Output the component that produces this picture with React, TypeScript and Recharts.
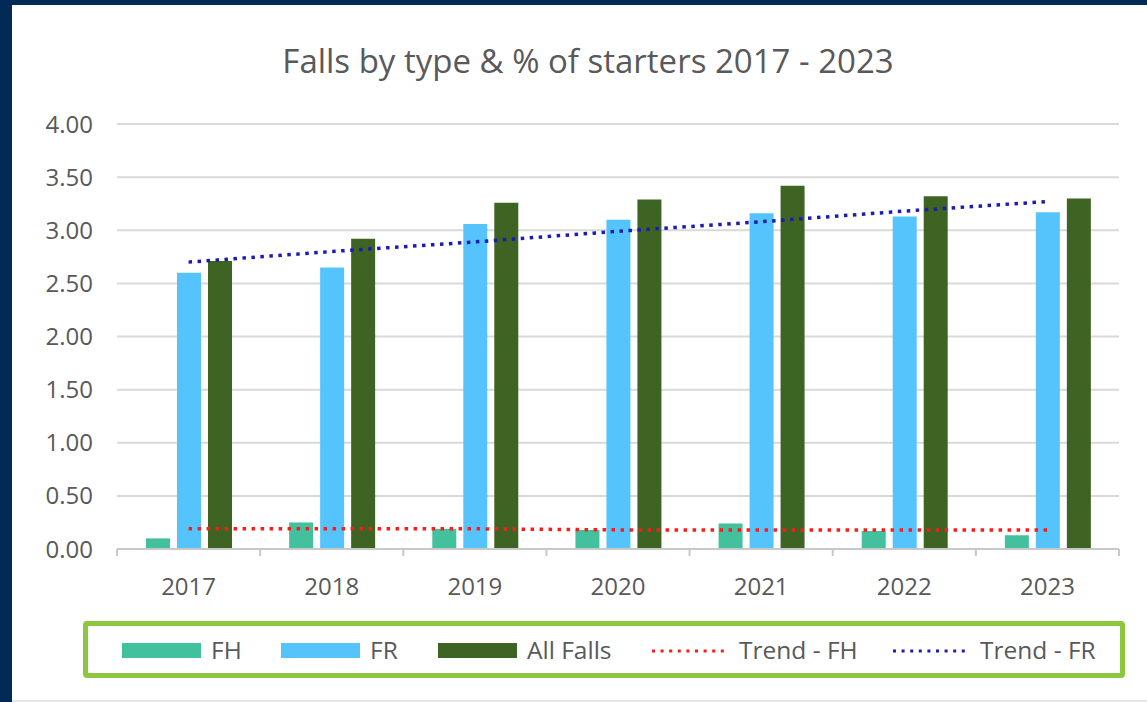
import React from "react";
import { ComposedChart, Bar, Line, XAxis, YAxis, CartesianGrid } from "recharts";

// values
const years = ["2017", "2018", "2019", "2020", "2021", "2022", "2023"];
const fhValues = [0.10, 0.25, 0.19, 0.18, 0.24, 0.17, 0.13];
const frValues = [2.60, 2.65, 3.06, 3.10, 3.16, 3.13, 3.17];
const allFallsValues = [2.71, 2.92, 3.26, 3.29, 3.42, 3.32, 3.30];
const trendFhValues = [0.19, 0.19, 0.19, 0.18, 0.18, 0.18, 0.18];
const trendFrValues = [2.70, 2.80, 2.89, 2.99, 3.08, 3.18, 3.27];
const yTicks = [0, 0.5, 1, 1.5, 2, 2.5, 3, 3.5, 4];

const data = years.map((year, i) => ({
  year,
  fh: fhValues[i],
  fr: frValues[i],
  allFalls: allFallsValues[i],
  trendFh: trendFhValues[i],
  trendFr: trendFrValues[i],
}));

const COLORS = {
  fh: "#43c19f",
  fr: "#56c4fc",
  allFalls: "#3e6423",
  trendFh: "#ff1a1a",
  trendFr: "#1c1cb4",
  text: "#595959",
  grid: "#d9d9d9",
  navy: "#022a56",
  legendBorder: "#8fc640",
};

const FONT = "'Open Sans', 'Noto Sans', sans-serif";

// plot area in page pixels
const PLOT_LEFT = 117;
const PLOT_RIGHT = 1119;
const PLOT_TOP = 124;
const PLOT_BOTTOM = 549;
const BAND = (PLOT_RIGHT - PLOT_LEFT) / years.length;

const legendItems = [
  { label: "FH", color: COLORS.fh, kind: "bar" },
  { label: "FR", color: COLORS.fr, kind: "bar" },
  { label: "All Falls", color: COLORS.allFalls, kind: "bar" },
  { label: "Trend - FH", color: COLORS.trendFh, kind: "dots" },
  { label: "Trend - FR", color: COLORS.trendFr, kind: "dots" },
];
// left edge of each legend key, page pixels
const LEGEND_X = [122, 281, 438, 651, 892];

const YearTick = (props: any) => {
  const { x, y, payload, index } = props;
  const left = x - BAND / 2;
  return (
    <g>
      <line x1={left} y1={PLOT_BOTTOM} x2={left} y2={PLOT_BOTTOM + 7} stroke="#c8c8c8" strokeWidth={2} />
      {index === years.length - 1 && (
        <line x1={left + BAND} y1={PLOT_BOTTOM} x2={left + BAND} y2={PLOT_BOTTOM + 7} stroke="#c8c8c8" strokeWidth={2} />
      )}
      <text x={x} y={y} dy="0.71em" textAnchor="middle" fill={COLORS.text} fontSize={24} fontFamily={FONT}>
        {payload.value}
      </text>
    </g>
  );
};

export default function App() {
  return (
    <div style={{ position: "absolute", left: 0, top: 0, width: 1147, height: 702, background: COLORS.navy, overflow: "hidden" }}>
      <div style={{ position: "absolute", left: 12, top: 5, right: 0, bottom: 0, background: "#ffffff", borderBottom: "2px solid #e6e6e6" }} />

      <div
        style={{
          position: "absolute",
          left: 0,
          width: 1176,
          top: 39,
          textAlign: "center",
          fontFamily: FONT,
          fontSize: 33,
          color: COLORS.text,
          lineHeight: "44px",
        }}
      >
        Falls by type &amp; % of starters 2017 - 2023
      </div>

      <div style={{ position: "absolute", left: 0, top: 0 }}>
        <ComposedChart
          width={1147}
          height={702}
          data={data}
          margin={{ top: PLOT_TOP, right: 1147 - PLOT_RIGHT, bottom: 702 - PLOT_BOTTOM - 40, left: 0 }}
          barSize={24}
          barGap={7}
        >
          <CartesianGrid vertical={false} stroke={COLORS.grid} strokeWidth={2} />
          <XAxis
            dataKey="year"
            height={40}
            axisLine={{ stroke: "#c8c8c8", strokeWidth: 2 }}
            tickLine={false}
            tickSize={0}
            tickMargin={29}
            tick={<YearTick />}
          />
          <YAxis
            width={PLOT_LEFT}
            domain={[0, 4]}
            ticks={yTicks}
            axisLine={false}
            tickLine={false}
            tickSize={0}
            tickMargin={24}
            tickFormatter={(v: number) => v.toFixed(2)}
            tick={{ fill: COLORS.text, fontSize: 24, fontFamily: FONT }}
          />
          <Bar dataKey="fh" fill={COLORS.fh} isAnimationActive={false} />
          <Bar dataKey="fr" fill={COLORS.fr} isAnimationActive={false} />
          <Bar dataKey="allFalls" fill={COLORS.allFalls} isAnimationActive={false} />
          <Line
            type="linear"
            dataKey="trendFh"
            stroke={COLORS.trendFh}
            strokeWidth={3.5}
            strokeDasharray="3.5 5.5"
            dot={false}
            activeDot={false}
            isAnimationActive={false}
          />
          <Line
            type="linear"
            dataKey="trendFr"
            stroke={COLORS.trendFr}
            strokeWidth={3.5}
            strokeDasharray="3.5 5.5"
            dot={false}
            activeDot={false}
            isAnimationActive={false}
          />
        </ComposedChart>
      </div>

      {/* legend box */}
      <div
        style={{
          position: "absolute",
          left: 83,
          top: 621,
          width: 1042,
          height: 57,
          boxSizing: "border-box",
          border: `5px solid ${COLORS.legendBorder}`,
          borderRadius: 4,
        }}
      />
      {legendItems.map((item, i) => (
        <div
          key={item.label}
          style={{
            position: "absolute",
            left: LEGEND_X[i],
            top: 634,
            height: 32,
            display: "flex",
            alignItems: "center",
            whiteSpace: "nowrap",
            fontFamily: FONT,
            fontSize: 24.5,
            color: COLORS.text,
          }}
        >
          {item.kind === "bar" ? (
            <div style={{ width: 79, height: 15, background: item.color }} />
          ) : (
            <svg width={78} height={15}>
              <line x1={1} y1={8} x2={78} y2={8} stroke={item.color} strokeWidth={3} strokeDasharray="3 5.6" />
            </svg>
          )}
          <span style={{ marginLeft: 10, lineHeight: "32px" }}>{item.label}</span>
        </div>
      ))}
    </div>
  );
}
